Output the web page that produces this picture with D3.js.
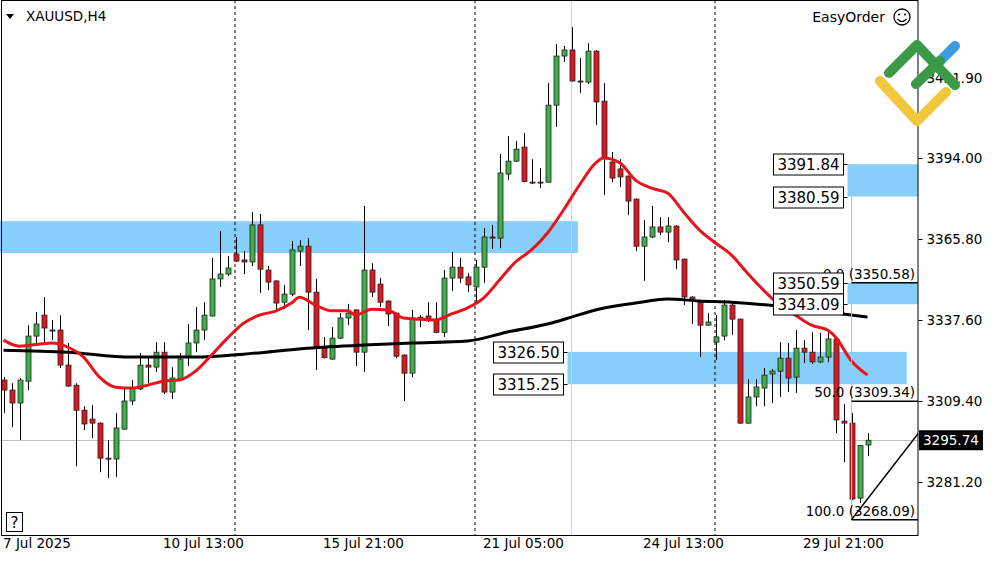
<!DOCTYPE html>
<html>
<head>
<meta charset="utf-8">
<script src="https://cdn.jsdelivr.net/npm/d3@7"></script>
<style>
  body { margin: 0; background: #fff; }
  svg { font-family: "DejaVu Sans", sans-serif; }
</style>
</head>
<body>
<svg width="1000" height="562"></svg>
<script>
// XAUUSD H4 candles: open, high, low, close
const opens  = [3316.7,3313.2,3308.7,3316.3,3332.0,3339.3,3334.1,3334.1,3321.9,3314.9,3306.2,3303.1,3301.7,3289.5,3289.2,3299.6,3309.4,3313.6,3321.9,3321.2,3326.4,3312.5,3317.0,3324.7,3329.6,3334.1,3339.0,3351.9,3353.6,3360.6,3358.5,3357.8,3370.7,3355.0,3351.2,3343.8,3346.6,3361.6,3363.3,3347.3,3327.8,3324.0,3331.3,3338.3,3341.1,3326.4,3355.0,3350.1,3344.2,3340.0,3325.4,3319.1,3338.6,3339.0,3337.9,3333.3,3352.2,3356.0,3352.6,3349.1,3356.0,3366.5,3366.1,3388.4,3392.9,3397.8,3385.6,3385.6,3385.6,3412.4,3429.5,3431.6,3420.8,3420.4,3431.2,3413.8,3392.6,3390.2,3387.7,3379.7,3363.3,3366.5,3370.0,3368.2,3370.3,3358.8,3345.6,3343.8,3335.8,3329.9,3332.0,3342.8,3337.9,3301.7,3310.8,3313.9,3318.8,3319.8,3324.3,3317.7,3327.8,3326.4,3323.0,3324.7,3331.0,3302.4,3301.7,3275.6,3294.1];
const highs  = [3317.7,3315.6,3317.4,3335.8,3340.4,3345.6,3337.6,3339.3,3329.6,3315.6,3307.6,3308.0,3302.0,3295.8,3305.2,3314.3,3316.7,3326.1,3324.7,3329.9,3329.9,3321.2,3326.1,3336.2,3342.1,3343.8,3359.2,3368.6,3359.9,3366.5,3361.6,3375.2,3374.5,3356.4,3351.4,3349.8,3365.1,3365.4,3366.1,3351.9,3331.7,3335.1,3340.0,3343.2,3341.3,3377.3,3357.4,3352.2,3344.4,3340.2,3325.6,3341.1,3339.3,3343.8,3343.8,3355.0,3361.3,3359.2,3353.9,3358.5,3369.6,3370.7,3395.4,3401.6,3399.9,3402.7,3393.6,3390.5,3420.1,3433.7,3433.0,3439.6,3428.8,3434.0,3431.6,3420.1,3396.1,3393.6,3387.9,3379.9,3372.4,3377.3,3373.4,3373.4,3370.7,3359.0,3345.9,3344.0,3340.0,3339.3,3344.5,3344.2,3338.1,3317.0,3317.0,3320.9,3320.5,3329.9,3329.6,3334.1,3330.6,3333.4,3333.1,3334.4,3331.3,3308.3,3305.2,3294.1,3298.2];
const lows   = [3305.2,3300.3,3295.8,3313.2,3328.9,3329.6,3330.6,3320.9,3314.3,3286.7,3299.3,3296.5,3284.6,3282.6,3282.9,3299.4,3308.0,3313.2,3315.6,3319.5,3311.8,3310.1,3316.7,3321.6,3326.4,3330.6,3338.8,3349.1,3352.9,3357.8,3353.6,3356.4,3347.0,3348.0,3341.1,3341.4,3345.9,3356.4,3334.1,3320.2,3324.2,3323.7,3331.0,3335.8,3321.6,3319.5,3345.6,3342.1,3335.5,3324.3,3309.4,3317.7,3335.1,3336.9,3333.0,3331.7,3347.7,3350.5,3347.3,3343.8,3350.5,3362.3,3362.6,3386.3,3392.6,3385.6,3384.9,3383.5,3385.4,3404.8,3427.4,3420.6,3416.6,3419.8,3405.5,3381.1,3385.6,3383.9,3374.1,3361.6,3351.2,3366.1,3367.2,3364.7,3355.3,3342.8,3336.2,3324.7,3335.6,3323.7,3330.6,3332.4,3301.5,3301.5,3307.6,3307.6,3308.7,3310.8,3312.5,3312.2,3322.6,3322.3,3322.6,3322.9,3298.2,3288.1,3274.9,3273.9,3290.2];
const closes = [3313.2,3308.7,3316.7,3332.0,3336.2,3334.8,3333.9,3321.9,3314.6,3306.2,3301.4,3301.7,3289.5,3289.3,3300.0,3309.4,3313.9,3321.9,3321.2,3326.4,3312.5,3317.4,3324.0,3329.6,3334.1,3339.3,3351.9,3353.6,3355.7,3358.1,3357.8,3370.7,3355.3,3350.8,3343.5,3346.6,3362.0,3363.3,3347.3,3327.8,3324.5,3331.3,3338.3,3340.0,3326.4,3355.0,3347.3,3343.8,3339.7,3325.0,3319.1,3338.3,3337.9,3337.9,3333.3,3352.2,3356.0,3352.2,3349.8,3356.0,3366.5,3366.1,3388.8,3392.9,3397.1,3385.8,3385.5,3385.4,3412.4,3429.5,3431.6,3420.8,3420.6,3431.2,3413.5,3394.0,3387.0,3387.4,3379.0,3363.3,3366.5,3370.0,3368.2,3370.3,3358.5,3345.6,3344.9,3335.8,3336.9,3331.7,3342.8,3337.9,3301.7,3310.8,3314.3,3318.4,3319.8,3324.3,3317.4,3327.8,3326.4,3323.0,3324.7,3331.0,3302.8,3301.7,3275.3,3293.9,3295.74];

// moving averages: [bar index, value]
const fastMA = [[0,3330.6],[2,3328.5],[6,3329.6],[8,3328.2],[10,3324.7],[12,3317.7],[14,3314.2],[16,3313.9],[18,3314.9],[20,3316.3],[22,3316.7],[24,3319.8],[26,3325.4],[28,3331.3],[30,3336.5],[32,3339.3],[34,3340.7],[36,3343.5],[37,3345.5],[39,3342.8],[41,3340.8],[43,3340.8],[44,3339.3],[46,3341.3],[48,3341.1],[50,3338.3],[52,3337.9],[54,3337.6],[56,3339.7],[58,3341.8],[60,3345.2],[62,3351.5],[64,3357.8],[66,3362.0],[68,3367.9],[70,3375.9],[72,3384.6],[74,3392.2],[75,3394.0],[77,3392.4],[79,3386.3],[81,3383.5],[83,3381.8],[85,3375.2],[87,3368.9],[89,3364.4],[91,3360.2],[93,3353.9],[95,3348.0],[97,3342.8],[99,3339.3],[101,3335.8],[103,3334.1],[104,3331.7],[106,3323.3],[108,3318.4]];
const slowMA = [[0,3327.1],[8,3326.4],[16,3324.7],[24,3324.7],[30,3325.7],[38,3327.8],[45,3328.9],[51,3329.6],[58,3330.3],[63,3333.4],[68,3336.2],[71,3338.6],[74,3341.1],[79,3343.5],[83,3344.9],[87,3344.2],[91,3343.8],[97,3342.4],[103,3340.4],[108,3338.6]];

// zones: [start index, end index, top, bottom]
const zones = [[-1,72.3,3372.0,3360.9],[71,113.4,3326.50,3315.25],[106,116,3391.84,3380.59],[106,116,3350.59,3343.09]];
const zoneLabels = [[3391.84,106],[3380.59,106],[3350.59,106],[3343.09,106],[3326.50,71],[3315.25,71]];
const fibLevels = [[0.0,3350.58],[50.0,3309.34],[100.0,3268.09]];
const trendLine = [[106,3268.09],[115,3300.5]];
const separators = [29,59,89];
const priceTicks = [3421.90,3394.00,3365.80,3337.60,3309.40,3281.20];
const dateIdx = [0,20,40,60,80,100];
const dateLabels = ["7 Jul 2025","10 Jul 13:00","15 Jul 21:00","21 Jul 05:00","24 Jul 13:00","29 Jul 21:00"];
const lastPrice = 3295.74;

const svg = d3.select("svg");
const W = 918, H = 535;
const x = d3.scaleLinear().domain([0, 1]).range([3.5, 11.5]);
const y = d3.scaleLinear().domain([3281.2, 3394.0]).range([482, 158]);

svg.append("defs").append("clipPath").attr("id", "plot")
  .append("rect").attr("x", 0).attr("y", 0).attr("width", W).attr("height", H);
const g = svg.append("g").attr("clip-path", "url(#plot)");

// zones
zones.forEach(z => {
  g.append("rect")
    .attr("x", x(z[0]) - 4).attr("y", y(z[2]))
    .attr("width", x(z[1]) - x(z[0])).attr("height", y(z[3]) - y(z[2]))
    .attr("fill", "#87cefa");
});

// current price line and highlight line
g.append("line").attr("x1", 0).attr("x2", W).attr("y1", Math.round(y(lastPrice)) + 0.5).attr("y2", Math.round(y(lastPrice)) + 0.5)
  .attr("stroke", "#c0c0c0");
g.append("line").attr("x1", x(71)).attr("x2", x(71)).attr("y1", 0).attr("y2", H).attr("stroke", "#d3d3d3");

// period separators
separators.forEach(i => {
  g.append("line").attr("x1", x(i) - 0.5).attr("x2", x(i) - 0.5).attr("y1", 0).attr("y2", H)
    .attr("stroke", "#000").attr("stroke-dasharray", "3,3");
});

// candles
const bars = d3.range(opens.length);
g.selectAll(".wick").data(bars).join("line")
  .attr("x1", i => Math.round(x(i)) + 0.5).attr("x2", i => Math.round(x(i)) + 0.5)
  .attr("y1", i => y(highs[i])).attr("y2", i => y(lows[i]))
  .attr("stroke", "#000");
g.selectAll(".body").data(bars).join("rect")
  .attr("x", i => Math.round(x(i)) - 2)
  .attr("y", i => y(Math.max(opens[i], closes[i])))
  .attr("width", 5)
  .attr("height", i => Math.max(1, Math.abs(y(opens[i]) - y(closes[i]))))
  .attr("fill", i => closes[i] >= opens[i] ? "#3fae49" : "#d71920")
  .attr("stroke", "#222").attr("stroke-width", 0.8);

// moving averages
const maLine = d3.line().x(d => x(d[0])).y(d => y(d[1])).curve(d3.curveMonotoneX);
g.append("path").datum(slowMA).attr("d", maLine).attr("fill", "none").attr("stroke", "#000").attr("stroke-width", 3);
g.append("path").datum(fastMA).attr("d", maLine).attr("fill", "none").attr("stroke", "#e8141c").attr("stroke-width", 3);

// fibonacci
g.append("line").attr("x1", x(106)).attr("x2", x(106)).attr("y1", y(3391.84)).attr("y2", y(3268.09))
  .attr("stroke", "#9ecbe0");
fibLevels.forEach(f => {
  g.append("line").attr("x1", x(106)).attr("x2", W).attr("y1", y(f[1])).attr("y2", y(f[1]))
    .attr("stroke", "#000").attr("stroke-width", 1.5);
  g.append("text").attr("x", 915).attr("y", y(f[1]) - 4).attr("text-anchor", "end")
    .attr("font-size", 13.5).text(`${f[0].toFixed(1)} (${f[1].toFixed(2)})`);
});
g.append("line").attr("x1", x(trendLine[0][0])).attr("y1", y(trendLine[0][1]))
  .attr("x2", x(trendLine[1][0])).attr("y2", y(trendLine[1][1])).attr("stroke", "#000").attr("stroke-width", 1.5);

// zone price labels
zoneLabels.forEach(l => {
  const right = x(l[1]) - 8, yy = Math.round(y(l[0]));
  g.append("line").attr("x1", right).attr("x2", x(l[1]) - 4).attr("y1", yy + 0.5).attr("y2", yy + 0.5).attr("stroke", "#000");
  g.append("rect").attr("x", right - 70).attr("y", yy - 10).attr("width", 70).attr("height", 21)
    .attr("fill", "#fff").attr("stroke", "#000");
  g.append("text").attr("x", right - 35).attr("y", yy + 6).attr("text-anchor", "middle")
    .attr("font-size", 15).text(l[0].toFixed(2));
});

// frame
svg.append("rect").attr("x", 1.5).attr("y", 0.5).attr("width", W - 1.5).attr("height", H)
  .attr("fill", "none").attr("stroke", "#000");

// price axis
const yAxis = svg.append("g").attr("transform", `translate(${W + 0.5},0)`)
  .call(d3.axisRight(y).tickValues(priceTicks).tickFormat(d3.format(".2f")).tickSize(4).tickPadding(4));
yAxis.select(".domain").remove();
yAxis.selectAll("text").attr("font-size", 13.5).attr("font-family", "DejaVu Sans").attr("fill", "#000");

// last price tag
svg.append("rect").attr("x", W + 1).attr("y", y(lastPrice) - 10).attr("width", 64).attr("height", 20).attr("fill", "#000");
svg.append("text").attr("x", W + 5).attr("y", y(lastPrice) + 5).attr("fill", "#fff").attr("font-size", 13.5).text(lastPrice.toFixed(2));

// time axis
const xAxis = svg.append("g").attr("transform", `translate(0,${H + 0.5})`)
  .call(d3.axisBottom(x).tickValues(dateIdx).tickFormat((d, i) => dateLabels[i]).tickSize(0).tickPadding(8));
xAxis.select(".domain").remove();
xAxis.selectAll("text").attr("text-anchor", "start").attr("dx", -1).attr("dy", 4)
  .attr("font-size", 13.5).attr("font-family", "DejaVu Sans").attr("fill", "#000");

// header
svg.append("path").attr("d", "M6,14 L14,14 L10,19 Z").attr("fill", "#000");
svg.append("text").attr("x", 26).attr("y", 21).attr("font-size", 13.5).text("XAUUSD,H4");
svg.append("text").attr("x", 885).attr("y", 22).attr("text-anchor", "end").attr("font-size", 14).text("EasyOrder");
svg.append("circle").attr("cx", 902).attr("cy", 17).attr("r", 8).attr("fill", "none").attr("stroke", "#000").attr("stroke-width", 1.3);
svg.append("circle").attr("cx", 899).attr("cy", 14.5).attr("r", 1).attr("fill", "#000");
svg.append("circle").attr("cx", 905).attr("cy", 14.5).attr("r", 1).attr("fill", "#000");
svg.append("path").attr("d", "M897.5,19 Q902,24 906.5,19").attr("fill", "none").attr("stroke", "#000").attr("stroke-width", 1.2);

// help box
svg.append("rect").attr("x", 6.5).attr("y", 512.5).attr("width", 16).attr("height", 19).attr("fill", "#fff").attr("stroke", "#000");
svg.append("text").attr("x", 14.5).attr("y", 528).attr("text-anchor", "middle").attr("font-size", 15).text("?");

// logo
const logo = svg.append("g").attr("fill", "none").attr("stroke-linecap", "round").attr("stroke-linejoin", "round").attr("stroke-width", 10);
logo.append("path").attr("d", "M933,68 L955,46").attr("stroke", "#3d9be2");
logo.append("path").attr("d", "M880,81 L917,121 L946,92").attr("stroke", "#f2c73c");
logo.append("path").attr("d", "M889,73 L917,45 L955,85").attr("stroke", "#3b9a47");
logo.append("path").attr("d", "M916,84 L940,61").attr("stroke", "#3b9a47");
</script>
</body>
</html>
